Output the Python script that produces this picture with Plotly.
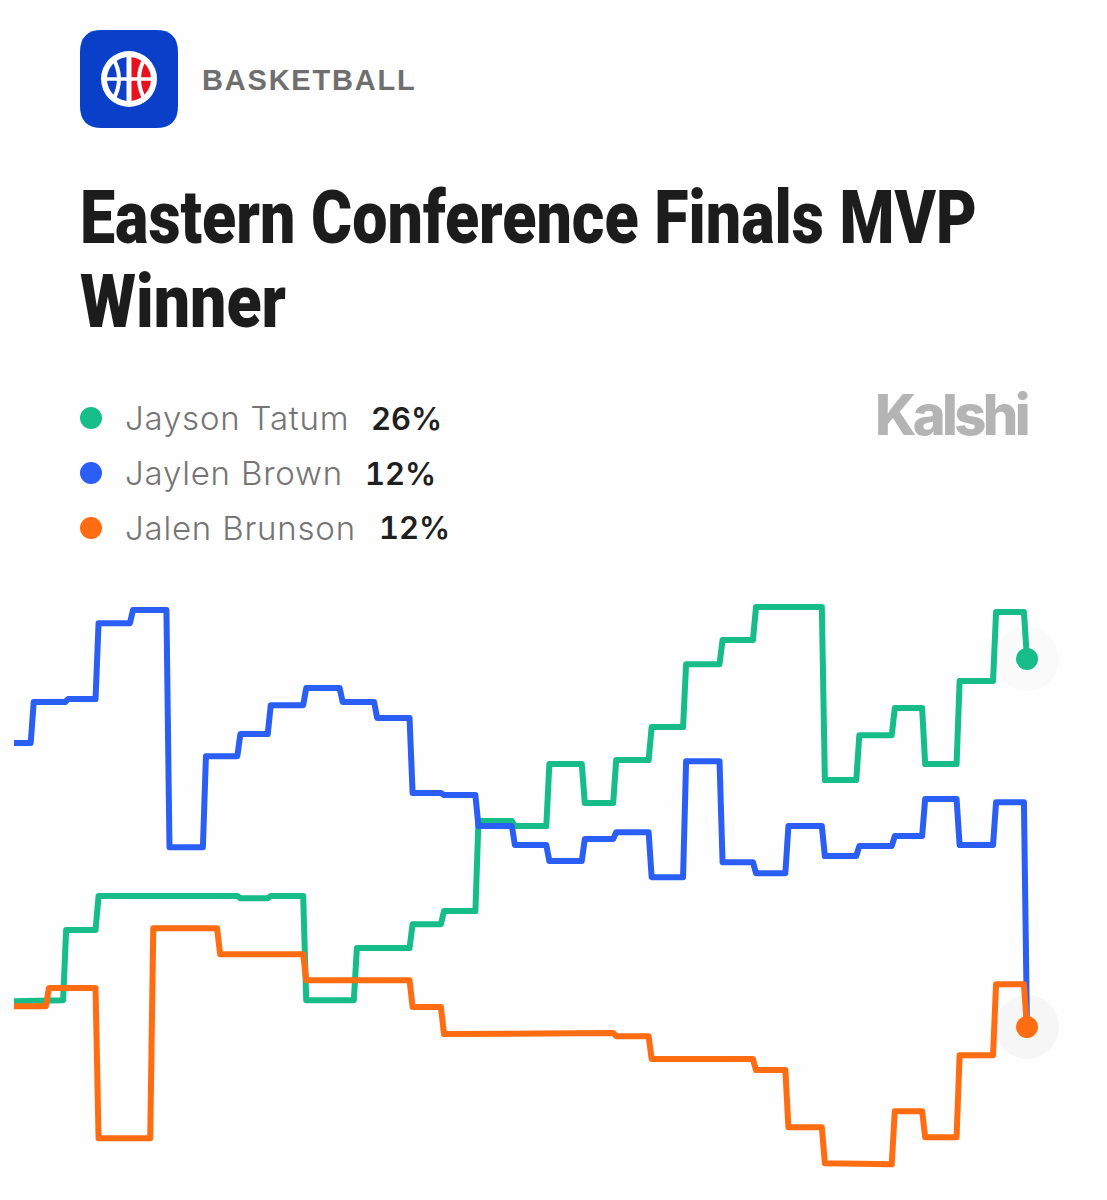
import plotly.graph_objects as go

WIDTH = 1107
HEIGHT = 1200

# time is percent of the market window, values are percent chance
tatum_t = [0, 1.8, 5.0, 8.2, 11.6, 15.2, 18.8, 22.2, 25.2, 28.7, 33.7, 39.2, 42.3, 45.7, 49.3, 52.7, 56.2,
           59.3, 62.8, 66.2, 69.8, 73.1, 79.9, 83.3, 86.8, 89.8, 93.2, 96.8, 99.85]
tatum_pct = [12.98, 13.02, 15.69, 16.98, 16.94, 16.94, 16.98, 16.90, 16.98, 13.02, 15.00, 15.91, 16.41, 19.83,
             19.64, 22.00, 20.52, 22.15, 23.41, 25.80, 26.72, 27.97, 21.39, 23.10, 24.13, 22.00, 25.16, 27.78, 26.00]

brown_t = [0, 1.8, 5.2, 8.2, 11.6, 15.2, 18.8, 22.2, 25.2, 28.7, 32.3, 35.7, 39.2, 42.3, 45.7, 49.3, 52.7, 56.2,
           59.3, 62.8, 66.2, 69.8, 73.1, 76.3, 79.9, 83.3, 86.8, 89.8, 93.2, 96.8, 99.85]
brown_pct = [22.80, 24.36, 24.47, 27.36, 27.86, 18.84, 22.30, 23.14, 24.24, 24.89, 24.36, 23.75, 20.90, 20.82,
             19.64, 18.92, 18.31, 19.15, 19.41, 17.70, 22.11, 18.27, 17.85, 19.64, 18.50, 18.88, 19.26, 20.67,
             18.92, 20.55, 12.00]

brunson_t = [0, 3.3, 8.2, 13.6, 20.2, 28.7, 39.2, 42.3, 45.7, 52.7, 56.2, 59.3, 62.8, 73.1, 76.3, 79.9, 83.3,
             86.8, 89.8, 93.2, 96.8, 99.85]
brunson_pct = [12.79, 13.48, 7.77, 15.76, 14.77, 13.78, 12.76, 11.73, 11.77, 11.73, 11.77, 11.65, 10.78, 10.36,
               8.19, 6.82, 6.78, 8.80, 7.81, 10.93, 13.63, 12.00]

names = ["Jayson Tatum", "Jaylen Brown", "Jalen Brunson"]
labels = ["26%", "12%", "12%"]
colors = ["#17bd88", "#2a5ef5", "#ff6c11"]
halos = ["#fafafa", "#f7f7f7", "#f6f6f6"]

title_lines = ["Eastern Conference Finals MVP", "Winner"]


def step_points(t, v, gap=0.15):
    # markets move in steps, each step takes a couple of pixels to drop
    x = [t[0]]
    y = [v[0]]
    for i in range(len(v) - 1):
        x += [t[i + 1] - gap, t[i + 1] + gap]
        y += [v[i], v[i + 1]]
    return x, y


def px(x):
    return x / WIDTH


def py(y):
    return 1 - y / HEIGHT


def path_shape(points, fill=None, line=None, width=0):
    return dict(type="path", xref="paper", yref="paper", path=points, fillcolor=fill,
                line=dict(color=line, width=width), layer="above")


def circle_shape(cx, cy, r, fill):
    return dict(type="circle", xref="paper", yref="paper", x0=px(cx - r), x1=px(cx + r),
                y0=py(cy + r), y1=py(cy - r), fillcolor=fill, line=dict(width=0), layer="above")


def pt(x, y):
    return f"{px(x):.5f},{py(y):.5f}"


def rounded_square(x0, y0, x1, y1, r):
    return (f"M{pt(x0 + r, y0)} L{pt(x1 - r, y0)} Q{pt(x1, y0)} {pt(x1, y0 + r)} L{pt(x1, y1 - r)} "
            f"Q{pt(x1, y1)} {pt(x1 - r, y1)} L{pt(x0 + r, y1)} Q{pt(x0, y1)} {pt(x0, y1 - r)} "
            f"L{pt(x0, y0 + r)} Q{pt(x0, y0)} {pt(x0 + r, y0)} Z")


def half_disc(cx, cy, r, side):
    k = 0.5523 * r
    s = side
    return (f"M{pt(cx, cy - r)} C{pt(cx + s * k, cy - r)} {pt(cx + s * r, cy - k)} {pt(cx + s * r, cy)} "
            f"C{pt(cx + s * r, cy + k)} {pt(cx + s * k, cy + r)} {pt(cx, cy + r)} Z")


def logo_shapes():
    cx, cy = 129, 79
    shapes = [path_shape(rounded_square(80, 30, 178, 128, 22), fill="#0a3fc9")]
    shapes.append(circle_shape(cx, cy, 28, "#ffffff"))
    shapes.append(path_shape(half_disc(cx, cy, 22, -1), fill="#0f3fc6"))
    shapes.append(path_shape(half_disc(cx, cy, 22, 1), fill="#e8121f"))
    # seams of the ball
    shapes.append(path_shape(f"M{pt(cx, cy - 24)} L{pt(cx, cy + 24)}", line="#ffffff", width=5))
    shapes.append(path_shape(f"M{pt(cx - 24, cy)} L{pt(cx + 24, cy)}", line="#ffffff", width=3.5))
    shapes.append(path_shape(f"M{pt(cx - 16, cy - 21)} Q{pt(cx - 4, cy)} {pt(cx - 16, cy + 21)}", line="#ffffff", width=4))
    shapes.append(path_shape(f"M{pt(cx + 16, cy - 21)} Q{pt(cx + 4, cy)} {pt(cx + 16, cy + 21)}", line="#ffffff", width=4))
    return shapes


def add_text(annotations, text, x, y, size, color, family, weight="normal"):
    annotations.append(dict(text=text, xref="paper", yref="paper", x=px(x), y=py(y), xanchor="left",
                            yanchor="middle", showarrow=False, align="left",
                            font=dict(size=size, color=color, family=family, weight=weight)))


def create_fig():
    fig = go.Figure()
    series = [(tatum_t, tatum_pct), (brown_t, brown_pct), (brunson_t, brunson_pct)]

    # halos first so no line gets covered
    for i in [0, 2]:
        fig.add_trace(go.Scatter(x=[100], y=[series[i][1][-1]], mode="markers", hoverinfo="skip",
                                 marker=dict(size=64, color=halos[i]), showlegend=False))

    for i, (t, v) in enumerate(series):
        x, y = step_points(t, v)
        fig.add_trace(go.Scatter(x=x, y=y, mode="lines", name=names[i], showlegend=False,
                                 line=dict(color=colors[i], width=6)))

    for i in [0, 2]:
        fig.add_trace(go.Scatter(x=[100], y=[series[i][1][-1]], mode="markers", hoverinfo="skip",
                                 marker=dict(size=22, color=colors[i]), showlegend=False))

    annotations = []
    add_text(annotations, "BASKETBALL", 200, 80, 29, "#6f6f6f", "Liberation Sans", "bold")
    # drawn small, then stretched to the condensed title in the post script
    add_text(annotations, title_lines[0], 78, 223, 60, "#1c1c1c", "Roboto", 900)
    add_text(annotations, title_lines[1], 78, 306, 60, "#1c1c1c", "Roboto", 900)
    add_text(annotations, "Kalshi", 873, 415, 56, "#b4b4b4", "Inter", 800)

    shapes = logo_shapes()
    legend_y = [418, 473, 528]
    pct_x = [369, 363, 377]
    for i in range(3):
        shapes.append(circle_shape(91, legend_y[i], 11, colors[i]))
        add_text(annotations, names[i], 123, legend_y[i], 33, "#757575", "Inter", 300)
        add_text(annotations, labels[i], pct_x[i], legend_y[i], 31, "#1f1f1f", "Inter", 600)

    fig.update_layout(width=WIDTH, height=HEIGHT, margin=dict(l=0, r=0, t=0, b=0),
                      paper_bgcolor="#fefefe", plot_bgcolor="#fefefe", showlegend=False,
                      shapes=shapes, annotations=annotations, hovermode=False)
    # ranges put 26% and 12% where the end dots sit
    fig.update_xaxes(visible=False, range=[-1.38, 107.9])
    fig.update_yaxes(visible=False, range=[5.42, 51.06])
    return fig


def main():
    fig = create_fig()
    # plotly has no letter spacing or condensed type, so set those once the page is drawn
    post_script = """
    document.body.style.margin = '0';
    document.querySelectorAll('.js-line').forEach(function (el) {
        el.style.strokeLinejoin = 'round';
    });
    var spacing = {'BASKETBALL': '1.8px', 'Kalshi': '-3.6px', 'Jayson Tatum': '0.8px',
                   'Jaylen Brown': '0.8px', 'Jalen Brunson': '0.8px'};
    var fitted = {'Eastern Conference Finals MVP': 897, 'Winner': 206};
    document.querySelectorAll('.annotation-text').forEach(function (el) {
        var t = el.textContent;
        if (spacing[t]) { el.style.letterSpacing = spacing[t]; }
        if (t.endsWith('%')) { el.style.fontFeatureSettings = '"tnum"'; }
        if (fitted[t]) {
            var x = parseFloat(el.getAttribute('x')) || 0;
            var y = parseFloat(el.getAttribute('y')) || 0;
            var sx = fitted[t] / el.getComputedTextLength();
            var sy = 75 / 60;
            el.setAttribute('transform', 'translate(' + x + ',' + y + ') scale(' + sx + ',' + sy + ') translate(' + (-x) + ',' + (-y) + ')');
        }
    });
    """
    fig.write_html("out.html", post_script=post_script, config=dict(displayModeBar=False))


if __name__ == "__main__":
    main()
